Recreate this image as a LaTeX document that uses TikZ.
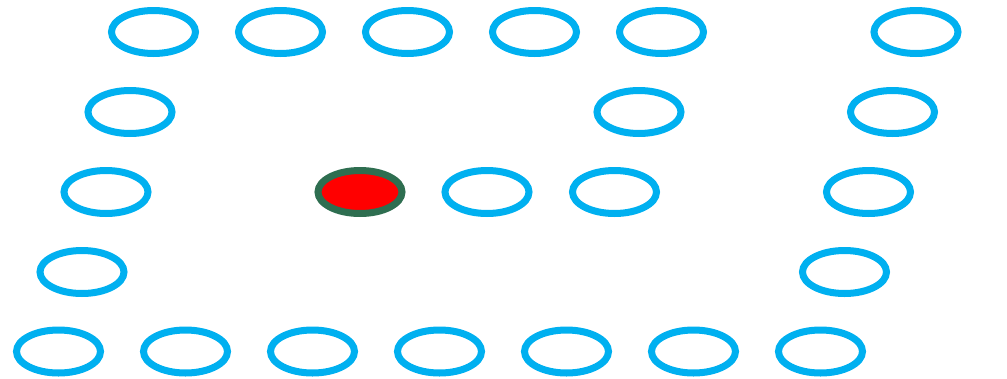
\documentclass[tikz,border=0pt]{standalone}
\usetikzlibrary{shapes.geometric}
\definecolor{ringblue}{RGB}{0,176,240}
\definecolor{ringgreen}{RGB}{46,110,80}
\begin{document}
\begin{tikzpicture}[x=1pt,y=-1pt,
  ring/.style={ellipse,draw=ringblue,line width=7pt,minimum width=84pt,minimum height=43pt,inner sep=0pt},
  redring/.style={ellipse,draw=ringgreen,fill=red,line width=7pt,minimum width=84pt,minimum height=43pt,inner sep=0pt}]
\useasboundingbox (0,0) rectangle (1007,378);
% row 0
\node[ring] (r0c0) at (153.5,32) {};
\node[ring] (r0c1) at (280.5,32) {};
\node[ring] (r0c2) at (407.5,32) {};
\node[ring] (r0c3) at (534.5,32) {};
\node[ring] (r0c4) at (661.5,32) {};
\node[ring] (r0c6) at (916,32) {};
% row 1
\node[ring] (r1c0) at (130,112) {};
\node[ring] (r1c4) at (639,112) {};
\node[ring] (r1c6) at (892.5,112) {};
% row 2
\node[ring] (r2c0) at (106,192) {};
\node[redring] (r2c2) at (360,192) {};
\node[ring] (r2c3) at (487,192) {};
\node[ring] (r2c4) at (614.5,192) {};
\node[ring] (r2c6) at (868.5,192) {};
% row 3
\node[ring] (r3c0) at (82,272) {};
\node[ring] (r3c6) at (844.5,272) {};
% row 4
\node[ring] (r4c0) at (58.5,351.5) {};
\node[ring] (r4c1) at (185.5,351.5) {};
\node[ring] (r4c2) at (312.5,351.5) {};
\node[ring] (r4c3) at (439.5,351.5) {};
\node[ring] (r4c4) at (566.5,351.5) {};
\node[ring] (r4c5) at (693.5,351.5) {};
\node[ring] (r4c6) at (820.5,351.5) {};
\end{tikzpicture}
\end{document}
